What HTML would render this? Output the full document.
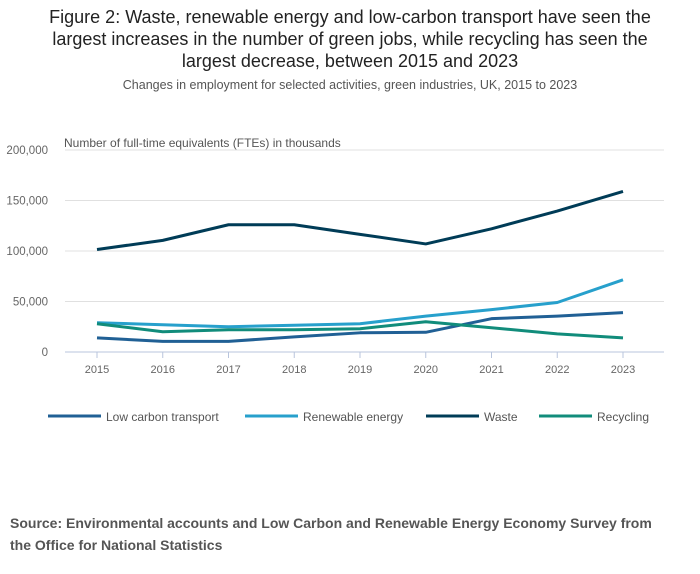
<!DOCTYPE html>
<html><head><meta charset="utf-8"><style>
body{margin:0;background:#fff;font-family:"Liberation Sans",sans-serif;}
#wrap{position:relative;width:700px;height:574px;overflow:hidden}
.t{position:absolute;left:0;width:700px;text-align:center;color:#222}
</style></head><body>
<div id="wrap">
<div class="t" style="top:6px;font-size:18px;line-height:22px;color:#222;white-space:nowrap">Figure 2: Waste, renewable energy and low-carbon transport have seen the<br>largest increases in the number of green jobs, while recycling has seen the<br>largest decrease, between 2015 and 2023</div>
<div class="t" style="top:78px;font-size:12.5px;color:#555">Changes in employment for selected activities, green industries, UK, 2015 to 2023</div>
<svg id="c" width="700" height="574" style="position:absolute;left:0;top:0"></svg>
<div style="position:absolute;left:10px;top:512px;font-size:14px;font-weight:bold;color:#555;line-height:22px">Source: Environmental accounts and Low Carbon and Renewable Energy Economy Survey from<br>the Office for National Statistics</div>
</div>
<script>
const years=[2015,2016,2017,2018,2019,2020,2021,2022,2023];
const lowCarbon=[14000,10500,10500,15000,19000,19500,33000,35500,39000];
const renewable=[29000,27000,25000,26500,28000,35500,42000,49000,71500];
const waste=[101500,110500,126000,126000,116500,107000,122000,139500,159000];
const recycling=[28000,20000,22000,22000,23000,30000,24000,18000,14000];
const yTicks=[0,50000,100000,150000,200000];
const seriesNames=["Low carbon transport","Renewable energy","Waste","Recycling"];
const NS="http://www.w3.org/2000/svg",svg=document.getElementById('c');
const x=i=>97+i*(623-97)/(years.length-1);
const y=v=>352-v*(352-150)/200000;
function mk(t,a,p){const e=document.createElementNS(NS,t);for(const k in a)e.setAttribute(k,a[k]);(p||svg).appendChild(e);return e;}
yTicks.forEach(v=>{
 const g=mk('line',{x1:65,x2:664,y1:y(v),y2:y(v),stroke:v===0?'#b8c4dc':'#e0e0e0','stroke-width':1});
 
 
 const t=mk('text',{x:48,y:y(v)+4,'text-anchor':'end','font-size':11.5,fill:'#666'});t.textContent=v.toLocaleString('en-GB');
 
 
});
const yt=mk('text',{x:64,y:147,'font-size':12,fill:'#555'});yt.textContent='Number of full-time equivalents (FTEs) in thousands';


years.forEach((yr,i)=>{
 const tk=mk('line',{x1:x(i),x2:x(i),y1:352,y2:358,stroke:'#b8c4dc'});
 
 
 const t=mk('text',{x:x(i),y:373,'text-anchor':'middle','font-size':11,fill:'#666'});t.textContent=yr;
 
 
});
const data=[lowCarbon,renewable,waste,recycling];
const colors=['#206095','#27a0cc','#003c57','#118c7b'];
data.forEach((d,s)=>{
 const p=mk('polyline',{points:d.map((v,i)=>x(i)+','+y(v)).join(' '),fill:'none',stroke:colors[s],'stroke-width':3,'stroke-linejoin':'round'});
 
 
});
const lx=[48,245,426,539];
seriesNames.forEach((n,s)=>{
 const l=mk('line',{x1:lx[s],x2:lx[s]+53,y1:416,y2:416,stroke:colors[s],'stroke-width':3});
 
 
 const t=mk('text',{x:lx[s]+58,y:421,'font-size':12,fill:'#555'});t.textContent=n;
 
 
});
</script>
</body></html>
